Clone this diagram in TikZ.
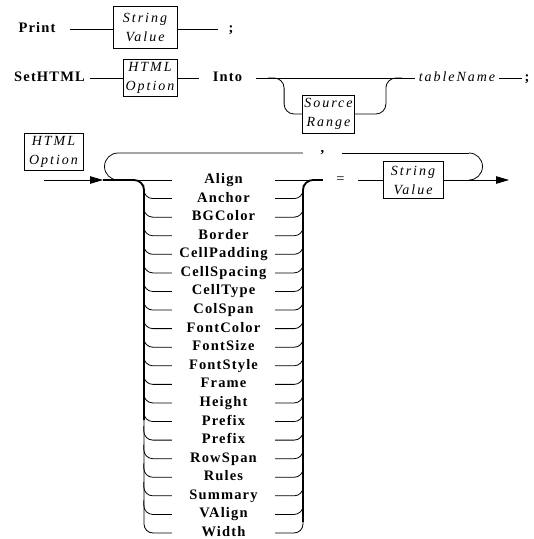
\documentclass[tikz,border=0pt]{standalone}
\usepackage{fontspec}
\setmainfont{Liberation Serif}
\newfontfamily\kwfam[LetterSpace=8]{Liberation Serif}
\newfontfamily\itfam[LetterSpace=14]{Liberation Serif}
\usetikzlibrary{arrows.meta,calc}
\begin{document}
\begin{tikzpicture}[x=1pt,y=-1pt,
  kw/.style={font=\kwfam\bfseries\fontsize{14.5}{17}\selectfont, inner sep=0pt, text height=10pt, text depth=3pt},
  itw/.style={font=\itfam\itshape\fontsize{14}{17}\selectfont, inner sep=0pt, text height=10pt, text depth=3pt},
  rbox/.style={draw, line width=0.8pt, font=\itfam\itshape\fontsize{14}{19}\selectfont, align=center, inner sep=0pt},
  opt/.style={kw, minimum width=103pt},
  wire/.style={line width=0.8pt},
  trunk/.style={line width=1.8pt},
  tip/.style={-{Triangle[length=13pt,width=7.5pt]}}]
\useasboundingbox (0,0) rectangle (534,539);

% ---- Print statement
\node[kw, minimum width=66pt] (print) at (37,29) {Print};
\node[rbox, minimum width=64pt, minimum height=42pt] (sv1) at (145,27) {String\\Value};
\node[kw, minimum width=26pt] (semi1) at (231,29) {;};
\draw[wire] (print.east) -- (print.east -| sv1.west);
\draw[wire] (sv1.east |- print.east) -- (semi1.west);

% ---- SetHTML statement
\node[kw, minimum width=81pt] (set) at (49.5,78) {SetHTML};
\node[rbox, minimum width=54pt, minimum height=37pt] (ho1) at (150,78) {HTML\\Option};
\node[kw, minimum width=56pt] (into) at (227.5,78) {Into};
\node[rbox, minimum width=52pt, minimum height=38pt] (sr) at (328.5,114) {Source\\Range};
\node[itw, minimum width=84pt] (tn) at (457,78) {tableName};
\node[kw, minimum width=10pt] (semi2) at (527,78) {;};
\draw[wire] (set) -- (ho1);
\draw[wire] (ho1) -- (into);
\draw[wire] (into) -- (tn);
\draw[wire] (tn) -- (semi2);
\coordinate (bL) at (268,78);
\coordinate (bR) at (402,78);
\draw[wire, rounded corners=10pt] (bL) -| ($(sr.west)+(-18,0)$) -- (sr.west);
\draw[wire, rounded corners=10pt] (sr.east) -- ($(sr.east)+(31,0)$) |- (bR);

% ---- HTML Option
\node[rbox, minimum width=59pt, minimum height=37pt] (ho2) at (53.5,151.5) {HTML\\Option};
\foreach \t [count=\i] in {Align,Anchor,BGColor,Border,CellPadding,CellSpacing,CellType,ColSpan,FontColor,FontSize,FontStyle,Frame,Height,Prefix,Prefix,RowSpan,Rules,Summary,VAlign,Width}
  \node[opt] (o\i) at (223.5,{180+18.579*(\i-1)}) {\t};

\node[kw, font=\kwfam\fontsize{14.5}{17}\selectfont, minimum width=35pt] (eq) at (340.5,180) {=};
\node[kw, minimum width=39pt] (comma) at (322.5,149) {,};
\node[rbox, minimum width=60pt, minimum height=37pt] (sv2) at (413,180) {String\\Value};

\coordinate (entry) at (44,180);
\coordinate (split) at (103,180);
\coordinate (LT) at (144,180);
\coordinate (RT) at (303,180);
\coordinate (Lm) at (144,420);
\coordinate (Rm) at (303,522);
\coordinate (out) at (509,180);
\coordinate (Ltop) at (118,153);
\coordinate (Rtop) at (469,153);
\coordinate (Rjoin) at (469,180);

\draw[wire, tip] (entry) -- (split);
\draw[wire] (split) -- (o1.west);
\draw[wire] (o1.east) -- (eq.west);
\draw[trunk, rounded corners=10pt] (split) -- (LT) -- (Lm);
\draw[trunk, rounded corners=10pt] (Rm) -- (RT) -- (eq.west);
\foreach \i in {2,...,19} {
  \draw[wire, rounded corners=9pt] ($(o\i.west)+(-28,-14)$) |- (o\i.west);
  \draw[wire, rounded corners=9pt] (o\i.east) -| ($(o\i.east)+(28,-14)$);
}
\draw[wire, rounded corners=9pt] (Lm) |- (o20.west);
\draw[wire, rounded corners=9pt] (o20.east) -| (Rm);

\draw[wire] (eq.east) -- (sv2.west);
\draw[wire, tip] (sv2.east) -- (out);
\draw[wire] (Rjoin) arc[start angle=-90, end angle=90, radius=13.5pt];
\draw[wire] (Rtop) -- (comma.east |- Rtop);
\draw[wire] (comma.west |- Ltop) -- (Ltop) arc[start angle=90, end angle=270, radius=13.5pt];
\end{tikzpicture}
\end{document}
